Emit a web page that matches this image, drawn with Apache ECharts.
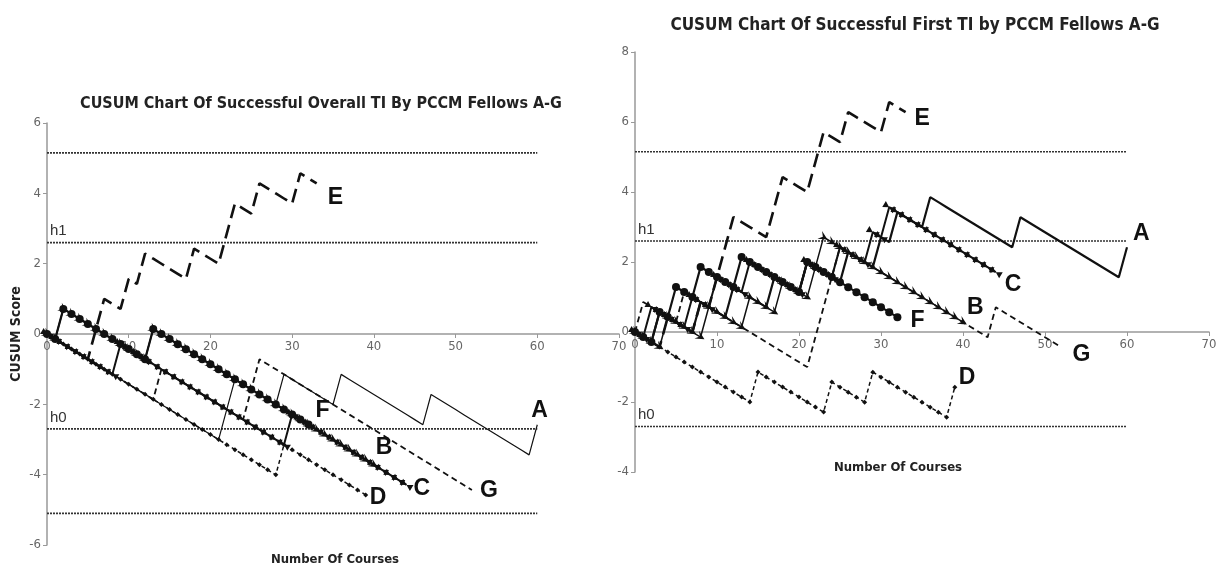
<!DOCTYPE html>
<html><head><meta charset="utf-8">
<script src="https://cdn.jsdelivr.net/npm/echarts@6/dist/echarts.min.js"></script>
<style>html,body{margin:0;padding:0;background:#fff}#c{width:1229px;height:567px}</style>
</head><body><div id="c"></div>
<script>
// ---------- DATA ----------
const fellows = ['A', 'B', 'C', 'D', 'E', 'F', 'G'];
// CUSUM weights: each successful case moves the score down, each failure moves it up
const successStep = -0.143;
const failureStep = 0.857;

// Left chart: successful overall TI — number of courses per fellow and the courses that failed
const leftCases = [60, 40, 44, 39, 33, 32, 52];
const leftFailA = [22, 23, 29, 36, 47, 60];
const leftFailB = [2, 13];
const leftFailC = [9, 30];
const leftFailD = [29];
const leftFailE = [6, 7, 10, 12, 18, 22, 23, 26, 31];
const leftFailF = [2, 13];
const leftFailG = [14, 25, 26];

// Right chart: successful first TI
const rightCases = [60, 40, 44, 39, 33, 32, 52];
const rightFailA = [3, 8, 12, 17, 21, 26, 30, 32, 36, 47, 60];
const rightFailB = [4, 9, 14, 18, 22, 23];
const rightFailC = [2, 7, 10, 14, 21, 25, 29, 31];
const rightFailD = [15, 24, 29, 39];
const rightFailE = [4, 8, 10, 11, 12, 17, 18, 22, 23, 26, 31];
const rightFailF = [3, 5, 8, 13, 21];
const rightFailG = [1, 6, 22, 23, 24, 25, 44];

// Decision limits
const leftLimits = [5.15, 2.6, -2.7, -5.1];
const leftLimitNames = ['', 'h1', 'h0', ''];
const rightLimits = [5.15, 2.6, -2.7];
const rightLimitNames = ['', 'h1', 'h0'];
const limitLastCase = 60;

// Axes
const xTicks = [0, 10, 20, 30, 40, 50, 60, 70];
const leftYRange = [-6, 6];
const rightYRange = [-4, 8];

// ---------- STYLE ----------
const NARROW = "'Liberation Sans Narrow','Arial Narrow','DejaVu Sans Condensed','Liberation Sans',sans-serif";
const SANS = "'Liberation Sans',Arial,sans-serif";
const INK = '#111';
const CHEVRON = 'path://M0,0L10,5L0,10L4,5Z';
const BOWTIE = 'path://M0,0L10,5L0,10Z M20,0L10,5L20,10Z';
const styles = {
  A: { width: 1.2, type: 'solid', symbol: 'none' },
  B: { width: 1.5, type: 'solid', symbol: CHEVRON, size: [9, 9], rotate: -31 },
  C: { width: 2, type: 'solid', symbol: BOWTIE, size: [12, 7], rotate: -31 },
  D: { width: 1.5, type: [4, 3], symbol: 'diamond', size: 5 },
  E: { width: 2.6, type: [14, 7], symbol: 'none' },
  F: { width: 2.2, type: 'solid', symbol: 'circle', size: 8 },
  G: { width: 1.8, type: [6, 4], symbol: 'none' }
};
const leftLabelOffset = { A: [-14, -14], B: [-6, -17], C: [-1, 4], D: [-4, 3], E: [3, 14], F: [-1, -14], G: [0, 1] };
const rightLabelOffset = { A: [-2, -14], B: [-4, -15], C: [1, 12], D: [-4, -10], E: [1, 6], F: [5, 3], G: [3, 7] };

function cusum(n, fails) {
  const pts = [[0, 0]];
  let y = 0;
  for (let i = 1; i <= n; i++) {
    y += fails.includes(i) ? failureStep : successStep;
    pts.push([i, +y.toFixed(3)]);
  }
  return pts;
}

const leftFails = [leftFailA, leftFailB, leftFailC, leftFailD, leftFailE, leftFailF, leftFailG];
const rightFails = [rightFailA, rightFailB, rightFailC, rightFailD, rightFailE, rightFailF, rightFailG];

function fellowSeries(idx, cases, fails, offsets, panel) {
  const order = ['A', 'G', 'D', 'C', 'B', 'F', 'E'];
  return order.map(letter => {
    const i = fellows.indexOf(letter);
    const st = styles[letter];
    const w = (panel === 1 && letter === 'A') ? 2.2 : st.width;
    return {
      type: 'line', name: letter, xAxisIndex: idx, yAxisIndex: idx,
      data: cusum(cases[i], fails[i]),
      symbol: st.symbol, symbolSize: st.size || 4, symbolRotate: st.rotate || 0,
      showSymbol: st.symbol !== 'none', showAllSymbol: true,
      lineStyle: { color: INK, width: w, type: st.type },
      itemStyle: { color: INK, borderWidth: 0 },
      z: 3,
      endLabel: { show: true, formatter: letter, fontSize: 23, fontWeight: 'bold', fontFamily: SANS, color: INK, offset: offsets[letter] },
      emphasis: { disabled: true }
    };
  });
}

function limitSeries(idx, limits, names) {
  return limits.map((v, k) => ({
    type: 'line', xAxisIndex: idx, yAxisIndex: idx,
    data: [{ value: [0, v], label: { show: names[k] !== '', formatter: names[k] } }, [limitLastCase, v]],
    symbol: 'circle', symbolSize: 0, showSymbol: true,
    lineStyle: { color: '#333', width: 1.7, type: [2, 1] },
    label: { show: false, position: 'top', align: 'left', offset: [3, 1], fontSize: 15, fontFamily: SANS, color: '#333' },
    z: 2, silent: true
  }));
}

// x axis drawn through y = 0 (offset from the grid bottom to the zero line)
function xAxis(idx, zeroOffset) {
  return {
    gridIndex: idx, type: 'value', min: 0, max: 70, interval: 10, position: 'bottom', offset: zeroOffset,
    axisLine: { show: true, onZero: false, lineStyle: { color: '#999', width: 1.5 } },
    axisTick: { show: true, length: 4, lineStyle: { color: '#999' } },
    axisLabel: { color: '#666', fontSize: 13, fontFamily: NARROW, margin: 6 },
    splitLine: { show: false }
  };
}
function yAxis(idx, range, name) {
  return {
    gridIndex: idx, type: 'value', min: range[0], max: range[1], interval: 2,
    axisLine: { show: true, lineStyle: { color: '#999', width: 1.5 } },
    axisTick: { show: true, length: 4, lineStyle: { color: '#999' } },
    axisLabel: { color: '#666', fontSize: 13, fontFamily: NARROW, margin: 6 },
    splitLine: { show: false },
    name: name || '', nameLocation: 'middle', nameRotate: 90, nameGap: 24,
    nameTextStyle: { fontSize: 14, fontWeight: 'bold', fontFamily: NARROW, color: '#222' }
  };
}

const titleStyleL = { fontSize: 16, fontWeight: 'bold', fontFamily: NARROW, color: '#222' };
const titleStyleR = { fontSize: 17, fontWeight: 'bold', fontFamily: NARROW, color: '#222' };
const nameStyle = { fontSize: 13, fontWeight: 'bold', fontFamily: NARROW, color: '#222' };

const gridL = { left: 47, top: 123, width: 572, height: 422 };
const gridR = { left: 635, top: 52, width: 574, height: 420 };
const zeroL = -gridL.height * (0 - leftYRange[0]) / (leftYRange[1] - leftYRange[0]);
const zeroR = -gridR.height * (0 - rightYRange[0]) / (rightYRange[1] - rightYRange[0]);

const option = {
  animation: false,
  backgroundColor: '#fff',
  title: [
    { text: 'CUSUM Chart Of Successful Overall TI By PCCM Fellows A-G', left: 316, top: 91, textAlign: 'center', textStyle: titleStyleL },
    { text: 'CUSUM Chart Of Successful First TI by PCCM Fellows A-G', left: 910, top: 12, textAlign: 'center', textStyle: titleStyleR },
    { text: 'Number Of Courses', left: 330, top: 548, textAlign: 'center', textStyle: nameStyle },
    { text: 'Number Of Courses', left: 893, top: 456, textAlign: 'center', textStyle: nameStyle }
  ],
  grid: [gridL, gridR],
  xAxis: [xAxis(0, zeroL), xAxis(1, zeroR)],
  yAxis: [yAxis(0, leftYRange, 'CUSUM Score'), yAxis(1, rightYRange, '')],
  series: [
    ...limitSeries(0, leftLimits, leftLimitNames),
    ...limitSeries(1, rightLimits, rightLimitNames),
    ...fellowSeries(0, leftCases, leftFails, leftLabelOffset, 0),
    ...fellowSeries(1, rightCases, rightFails, rightLabelOffset, 1)
  ]
};
const chart = echarts.init(document.getElementById('c'), null, { renderer: 'canvas' });
chart.setOption(option);
</script></body></html>
